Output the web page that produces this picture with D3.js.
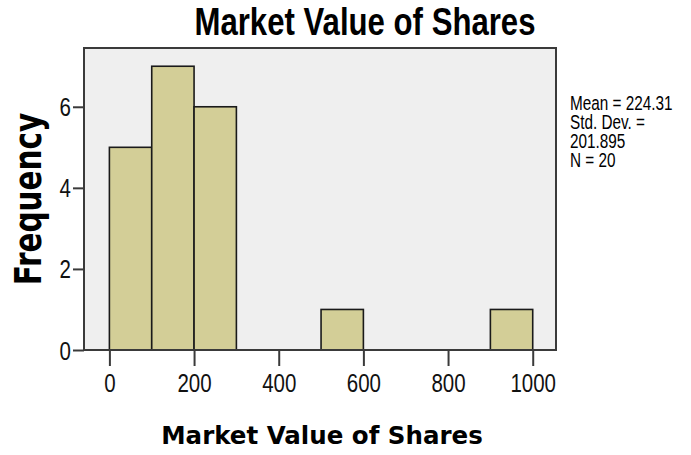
<!DOCTYPE html>
<html>
<head>
<meta charset="utf-8">
<script src="https://d3js.org/d3.v7.min.js"></script>
<style>
  html, body { margin: 0; padding: 0; background: #fff; }
</style>
</head>
<body>
<div id="chart"></div>
<script>
// histogram bins (lower edge, width 100) and counts
const binStarts = [0, 100, 200, 300, 400, 500, 600, 700, 800, 900];
const counts = [5, 7, 6, 0, 0, 1, 0, 0, 0, 1];
const binWidth = 100;

const xTicks = [0, 200, 400, 600, 800, 1000];
const yTicks = [0, 2, 4, 6];

const statsLines = ["Mean = 224.31", "Std. Dev. =", "201.895", "N = 20"];

const width = 691, height = 455;
const plot = { left: 84, right: 556, top: 48, bottom: 350 };

const svg = d3.select("#chart").append("svg")
    .attr("width", width)
    .attr("height", height);

const x = d3.scaleLinear().domain([-60, 1055]).range([plot.left, plot.right]);
const y = d3.scaleLinear().domain([0, 7.45]).range([plot.bottom, plot.top]);

// plot background
svg.append("rect")
    .attr("x", plot.left).attr("y", plot.top)
    .attr("width", plot.right - plot.left).attr("height", plot.bottom - plot.top)
    .attr("fill", "#efefef");

// bars
const bins = binStarts.map((b, i) => ({ x0: b, x1: b + binWidth, n: counts[i] })).filter(d => d.n > 0);
svg.append("g").selectAll("rect").data(bins).join("rect")
    .attr("x", d => x(d.x0))
    .attr("y", d => y(d.n))
    .attr("width", d => x(d.x1) - x(d.x0))
    .attr("height", d => y(0) - y(d.n))
    .attr("fill", "#d3ce97")
    .attr("stroke", "#1a1a1a")
    .attr("stroke-width", 1.6);

// frame
svg.append("rect")
    .attr("x", plot.left).attr("y", plot.top)
    .attr("width", plot.right - plot.left).attr("height", plot.bottom - plot.top)
    .attr("fill", "none")
    .attr("stroke", "#3a3a3a")
    .attr("stroke-width", 2);

// axes (SPSS style: ticks outside, narrow labels)
const narrow = "'Liberation Sans', Arial, sans-serif";

const xAxis = svg.append("g").attr("transform", `translate(0,${plot.bottom})`)
    .call(d3.axisBottom(x).tickValues(xTicks).tickSize(16).tickFormat(d3.format("d")));
xAxis.select(".domain").remove();
xAxis.selectAll(".tick line").attr("stroke", "#3a3a3a").attr("stroke-width", 2);
xAxis.selectAll(".tick text")
    .attr("y", 0).attr("dy", null)
    .attr("transform", "translate(0,42) scale(0.82,1)")
    .attr("font-family", narrow).attr("font-size", 25).attr("fill", "#111");

const yAxis = svg.append("g").attr("transform", `translate(${plot.left},0)`)
    .call(d3.axisLeft(y).tickValues(yTicks).tickSize(11).tickFormat(d3.format("d")));
yAxis.select(".domain").remove();
yAxis.selectAll(".tick line").attr("stroke", "#3a3a3a").attr("stroke-width", 2);
yAxis.selectAll(".tick text")
    .attr("x", 0).attr("dy", null)
    .attr("transform", "translate(-13,9) scale(0.82,1)")
    .attr("font-family", narrow).attr("font-size", 25).attr("fill", "#111");

// title
svg.append("text")
    .attr("transform", "translate(365,35) scale(0.82,1)")
    .attr("text-anchor", "middle")
    .attr("font-family", narrow).attr("font-weight", "bold").attr("font-size", 38)
    .attr("fill", "#000")
    .text("Market Value of Shares");

// x label
svg.append("text")
    .attr("x", 322).attr("y", 444)
    .attr("text-anchor", "middle")
    .attr("font-family", "'DejaVu Sans', sans-serif").attr("font-weight", "bold").attr("font-size", 24.5)
    .attr("fill", "#000")
    .text("Market Value of Shares");

// y label
svg.append("text")
    .attr("transform", "translate(41,199) rotate(-90) scale(1,1.25)")
    .attr("text-anchor", "middle")
    .attr("font-family", "'DejaVu Sans', sans-serif").attr("font-weight", "bold").attr("font-size", 29.5)
    .attr("fill", "#000")
    .text("Frequency");

// stats box
svg.append("g").selectAll("text").data(statsLines).join("text")
    .attr("transform", (d, i) => `translate(570,${110 + i * 19}) scale(0.85,1.15)`)
    .attr("font-family", narrow).attr("font-size", 18)
    .attr("fill", "#000")
    .text(d => d);
</script>
</body>
</html>
